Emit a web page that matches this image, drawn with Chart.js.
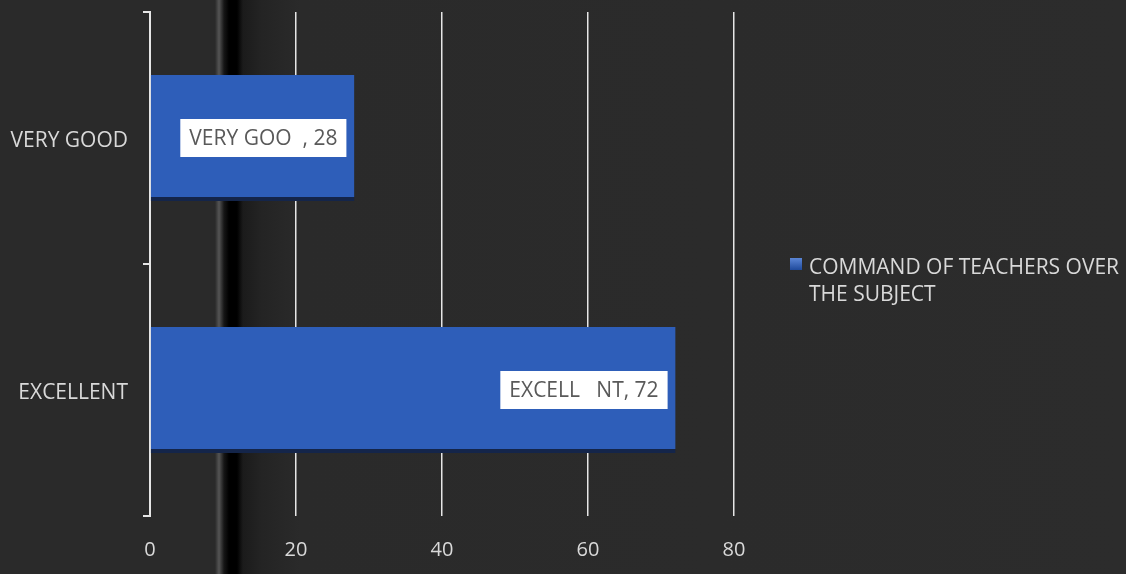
<!DOCTYPE html>
<html>
<head>
<meta charset="utf-8">
<script src="https://cdn.jsdelivr.net/npm/chart.js@4/dist/chart.umd.min.js"></script>
<style>
  html, body { margin: 0; padding: 0; }
  body {
    width: 1126px; height: 574px; overflow: hidden;
    background: linear-gradient(to right, #2a2a2a 0, #2a2a2a 215px, #555 219px, #161616 224px, #000 229px, #000 237px, #1b1b1b 243px, #242424 262px, #2a2a2a 300px, #2c2c2c 1126px);
  }
  #wrap { position: relative; width: 1126px; height: 574px; }
</style>
</head>
<body>
<div id="wrap"><canvas id="myChart" width="1126" height="574"></canvas></div>
<script>
// values
let categories = ['VERY GOOD', 'EXCELLENT'];
let values = [28, 72];
let pointLabels = ['VERY GOO  , 28', 'EXCELL   NT, 72'];
let seriesName = ['COMMAND OF TEACHERS OVER', 'THE SUBJECT'];
let xTicks = [0, 20, 40, 60, 80];

const fontFam = '"Open Sans", Lato, sans-serif';

// white label boxes inside the end of each bar
const labelBoxes = {
	id: 'labelBoxes',
	afterDatasetsDraw(chart) {
		const ctx = chart.ctx;
		const meta = chart.getDatasetMeta(0);
		ctx.save();
		ctx.font = '21px ' + fontFam;
		meta.data.forEach(function(bar, i) {
			const txt = pointLabels[i];
			const w = ctx.measureText(txt).width + 18;
			const h = 38;
			const right = bar.x - 8;
			ctx.fillStyle = '#ffffff';
			ctx.fillRect(right - w, bar.y - h / 2, w, h);
			ctx.fillStyle = '#595959';
			ctx.textBaseline = 'middle';
			ctx.textAlign = 'right';
			ctx.fillText(txt, right - 9, bar.y + 1);
		});
		ctx.restore();
	}
};

// legend on the right, wrapped to two lines
const sideLegend = {
	id: 'sideLegend',
	afterDraw(chart) {
		const ctx = chart.ctx;
		const x = chart.chartArea.right + 56;
		const y = 258;
		ctx.save();
		const g = ctx.createLinearGradient(0, y, 0, y + 12);
		g.addColorStop(0, '#5b86d6');
		g.addColorStop(1, '#1f4a9c');
		ctx.fillStyle = g;
		ctx.fillRect(x, y, 12, 12);
		ctx.font = '21px ' + fontFam;
		ctx.fillStyle = '#d9d9d9';
		ctx.textBaseline = 'middle';
		ctx.textAlign = 'left';
		seriesName.forEach(function(line, i) {
			ctx.fillText(line, x + 19, y + 10 + i * 27);
		});
		ctx.restore();
	}
};

const ctx = document.getElementById('myChart').getContext('2d');
let myChart = new Chart(ctx, {
	type: 'bar',
	data: {
		labels: categories,
		datasets: [{
			label: seriesName.join(' '),
			data: values,
			backgroundColor: '#2e5eb9',
			borderColor: '#14254a',
			borderWidth: { top: 0, left: 0, right: 0, bottom: 4 },
			borderSkipped: false,
			categoryPercentage: 1,
			barPercentage: 0.5
		}]
	},
	options: {
		indexAxis: 'y',
		responsive: false,
		animation: false,
		layout: { padding: { top: 12, right: 392, bottom: 0, left: 0 } },
		plugins: {
			legend: { display: false },
			tooltip: { enabled: false }
		},
		scales: {
			x: {
				min: 0,
				max: 80,
				afterBuildTicks(scale) {
					scale.ticks = xTicks.map(v => ({ value: v }));
				},
				afterFit(scale) { scale.height = 58; },
				border: { display: false },
				grid: { color: '#e6e6e6', lineWidth: 1.5, drawTicks: false },
				ticks: {
					color: '#d9d9d9',
					padding: 22,
					font: { family: fontFam, size: 20 }
				}
			},
			y: {
				afterFit(scale) {
					scale.width = 150;
					scale.paddingTop = 0;
					scale.paddingBottom = 0;
				},
				border: { display: true, color: '#e6e6e6', width: 2 },
				grid: { drawOnChartArea: false, color: '#e6e6e6', lineWidth: 2, tickLength: 7, offset: true },
				ticks: {
					color: '#d9d9d9',
					padding: 15,
					labelOffset: 3,
					font: { family: fontFam, size: 21 }
				}
			}
		}
	},
	plugins: [labelBoxes, sideLegend]
});
</script>
</body>
</html>
